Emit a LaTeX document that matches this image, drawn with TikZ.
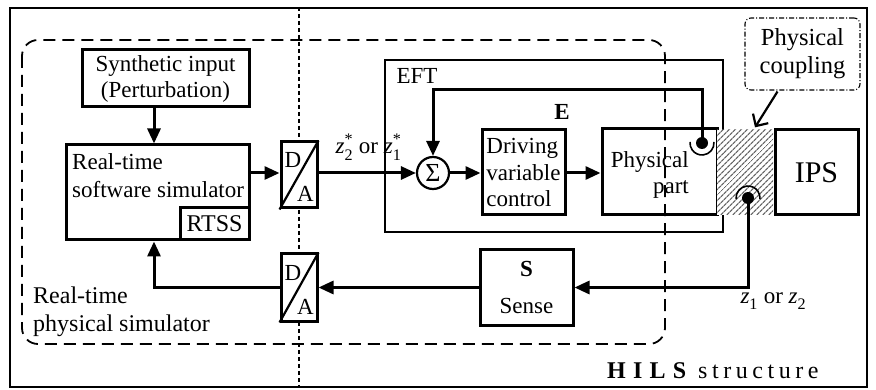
\documentclass[tikz,border=0pt]{standalone}
\usepackage{fontspec}
\usepackage{amsmath}
\setmainfont{Liberation Serif}
\usetikzlibrary{arrows.meta,calc,patterns.meta}
\newcommand{\zv}[2]{$\textit{z}_{\textrm{#1}}^{\textrm{#2}}$}
\begin{document}
\begin{tikzpicture}[x=1pt,y=-1pt,
  txt/.style={font=\fontsize{23}{26}\selectfont},
  boxst/.style={draw,line width=3pt,fill=white,inner sep=0pt,txt},
  arr/.style={line width=3pt,-{Triangle[length=15pt,width=13pt]}},
  dotln/.style={line width=1.8pt,dash pattern=on 4pt off 3pt},
  dashreg/.style={line width=1.8pt,dash pattern=on 12pt off 7pt},
  bdot/.style={circle,fill=black,minimum size=12pt,inner sep=0pt},
]
\useasboundingbox (0,0) rectangle (876,390);
% outer frame
\node[draw,line width=2.2pt,minimum width=857pt,minimum height=379pt,inner sep=0pt] (frame) at (438.5,197.5) {};
% EFT box
\node[draw,line width=1.4pt,minimum width=338pt,minimum height=172pt,inner sep=0pt] (eft) at (554,146) {};
\node[txt] (eftl) at (417,76) {EFT};
% dotted divider
\coordinate (divx) at (299,0);
\draw[dotln] (frame.north -| divx) -- (frame.south -| divx);
% boxes
\node[boxst,minimum width=167pt,minimum height=57pt,align=center] (synth) at (165.5,78.5) {Synthetic input\\(Perturbation)};
\node[boxst,minimum width=183pt,minimum height=95pt] (sim) at (157.5,192.5) {};
\node[txt,anchor=north west,align=left,inner sep=0pt,font=\fontsize{23}{28}\selectfont] (simt) at (72,153) {Real-time\\software simulator};
\node[boxst,minimum width=69pt,minimum height=32pt,font=\fontsize{24}{26}\selectfont] (rtss) at (214.5,224) {RTSS};
\node[boxst,minimum width=36pt,minimum height=66pt] (da1) at (299,175) {};
\draw[line width=2.2pt] (da1.south west) -- (da1.north east);
\path (da1.center) ++(-6,-15) node[txt] {D};
\path (da1.center) ++(6.5,19) node[txt] {A};
\node[boxst,minimum width=36pt,minimum height=67pt] (da2) at (299,287.5) {};
\draw[line width=2.2pt] (da2.south west) -- (da2.north east);
\path (da2.center) ++(-6,-15) node[txt] {D};
\path (da2.center) ++(6.5,19) node[txt] {A};
\node[circle,draw,line width=2.2pt,fill=white,minimum size=32pt,inner sep=0pt,font=\fontsize{26}{28}\selectfont] (sigma) at (433,173) {Σ};
\node[boxst,minimum width=83pt,minimum height=85pt,align=left,font=\fontsize{23}{26.5}\selectfont] (drive) at (523.5,172.5) {Driving\\variable\\control};
\node[txt,font=\bfseries\fontsize{23}{26}\selectfont] (elab) at (562,112) {E};
\node[boxst,minimum width=115pt,minimum height=86pt] (phys) at (659.5,172) {};
\node[txt,anchor=east,align=right,inner sep=0pt] (physt) at (689,175) {Physical\\part};
\node[preaction={fill=white},pattern={Lines[angle=45,distance=4pt,line width=1.3pt]},pattern color=black!60,minimum width=56pt,minimum height=85pt,inner sep=0pt] (hatch) at (745,172.5) {};
\node[boxst,minimum width=83pt,minimum height=85pt,font=\fontsize{30}{32}\selectfont] (ips) at (816.5,172.5) {IPS};
\node[boxst,minimum width=93pt,minimum height=75pt,align=center] (sense) at (526.5,287.5) {\textbf{S}\\[11pt]Sense};
% coupling label
\node[draw,line width=1.1pt,rounded corners=6pt,dash pattern=on 5pt off 2pt on 1pt off 2pt,minimum width=115pt,minimum height=72pt,inner sep=0pt,align=center,font=\fontsize{24.5}{28}\selectfont] (coupling) at (802.5,54) {Physical\\coupling};
\draw[line width=2.2pt,-{Straight Barb[length=9pt,width=18pt,line width=2.2pt]}] ($(coupling.south)+(-25,1)$) -- ($(hatch.north)+(10,-2)$);
% dots
\node[bdot] (d1) at (702,143) {};
\draw[line width=1.6pt] (d1.center) ++(-5:12) arc[start angle=-5,end angle=185,radius=12];
\node[bdot] (d2) at (748,198) {};
\draw[line width=1.6pt] (d2.center) ++(175:12) arc[start angle=175,end angle=365,radius=12];
% connectors
\draw[arr] ($(synth.south)+(-11.5,0)$) -- ($(sim.north)+(-3.5,0)$);
\draw[arr] (sigma.west -| sim.east) -- (sigma.west -| da1.west);
\draw[arr] (sigma.west -| da1.east) -- (sigma.west);
\draw[arr] (sigma.east) -- (sigma.east -| drive.west);
\draw[arr] (sigma.east -| drive.east) -- (sigma.east -| phys.west);
\draw[arr] (d1.center) -- ++(0,-53) -| (sigma.north);
\draw[arr] (d2.center) |- (sense.east);
\draw[arr] (sense.west) -- (da2.east);
\draw[arr] (da2.west) -| ($(sim.south)+(-3.5,0)$);
% labels
\node[txt,anchor=base] (zlab) at (368.5,154) {\zv{2}{*} or \zv{1}{*}};
\node[txt,anchor=base west] (zlab2) at (737,303) {\zv{1}{} or \zv{2}{}};
\node[anchor=north west,align=left,inner sep=0pt,font=\fontsize{24}{28}\selectfont] (regl) at (33,287) {Real-time\\physical simulator};
\node[anchor=base west,inner sep=0pt,font=\fontsize{24}{26}\selectfont] (hils) at (607,378) {{\bfseries\addfontfeatures{LetterSpace=30}HILS}\hspace{12pt}{\addfontfeatures{LetterSpace=19}structure}};
% dashed region
\draw[dashreg,rounded corners=16pt] (22,40) rectangle (665,344);
\end{tikzpicture}
\end{document}
